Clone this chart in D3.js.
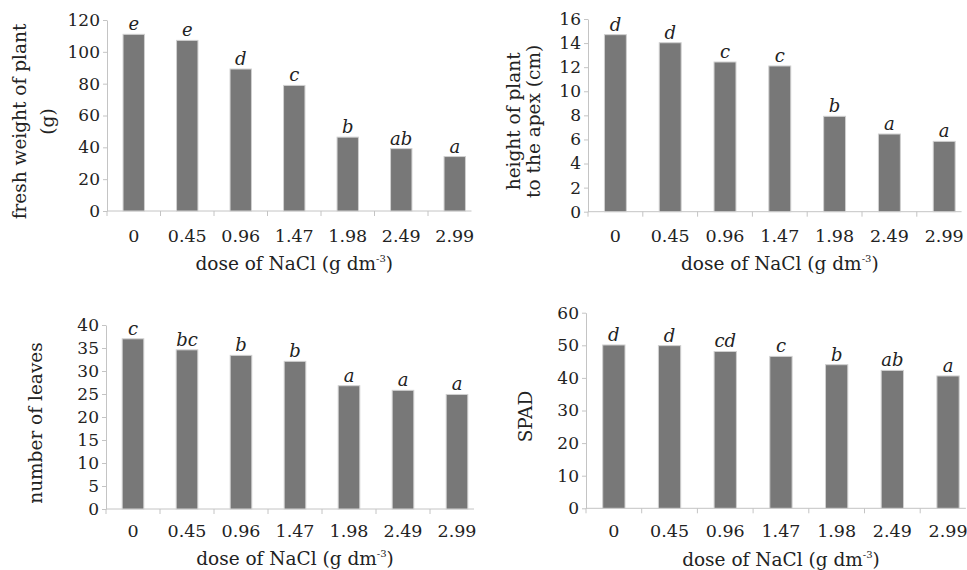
<!DOCTYPE html>
<html>
<head>
<meta charset="utf-8">
<script src="https://d3js.org/d3.v7.min.js"></script>
<style>
  body { margin: 0; background: #fff; }
  svg { display: block; }
  svg text { font-family: "DejaVu Serif", serif; fill: #222; }
</style>
</head>
<body>
<svg id="canvas" width="967" height="570"></svg>
<script>
"use strict"

const doses = ["0", "0.45", "0.96", "1.47", "1.98", "2.49", "2.99"]

const freshWeight = [111, 107.2, 89.2, 78.9, 46.4, 39.2, 34.2]
const freshWeightLetters = ["e", "e", "d", "c", "b", "ab", "a"]

const plantHeight = [14.7, 14.03, 12.43, 12.1, 7.92, 6.45, 5.84]
const plantHeightLetters = ["d", "d", "c", "c", "b", "a", "a"]

const leaves = [37.0, 34.6, 33.4, 32.1, 26.8, 25.8, 24.9]
const leavesLetters = ["c", "bc", "b", "b", "a", "a", "a"]

const spad = [50.1, 49.9, 48.1, 46.6, 44.05, 42.3, 40.6]
const spadLetters = ["d", "d", "cd", "c", "b", "ab", "a"]

const svg = d3.select("#canvas")

// one entry per panel: where its axes sit and what it shows
const panels = [
  { values: freshWeight, letters: freshWeightLetters, max: 120, step: 20,
    x0: 107, band: 53.5, top: 20, bottom: 211,
    ytitle: [["fresh weight of plant", 19], ["(g)", 47]], tickY: 242, titleY: 270 },
  { values: plantHeight, letters: plantHeightLetters, max: 16, step: 2,
    x0: 588, band: 54.8, top: 19, bottom: 211.7,
    ytitle: [["height of plant", 513], ["to the apex (cm)", 533]], tickY: 242, titleY: 270 },
  { values: leaves, letters: leavesLetters, max: 40, step: 5,
    x0: 106, band: 54, top: 325, bottom: 509,
    ytitle: [["number of leaves", 35]], tickY: 537, titleY: 565 },
  { values: spad, letters: spadLetters, max: 60, step: 10,
    x0: 586, band: 55.7, top: 312.7, bottom: 508.3,
    ytitle: [["SPAD", 525]], tickY: 537, titleY: 566 },
]

panels.forEach((p) => {
  const g = svg.append("g")
  const x = d3.scaleBand()
    .domain(doses)
    .range([p.x0, p.x0 + p.band * doses.length])
    .paddingInner(0.6)
    .paddingOuter(0.3)
  const y = d3.scaleLinear().domain([0, p.max]).range([p.bottom, p.top])

  // y axis
  const yAxis = d3.axisLeft(y)
    .tickValues(d3.range(0, p.max + p.step / 2, p.step))
    .tickSize(4)
    .tickPadding(3)
    .tickSizeOuter(0)
  const ya = g.append("g").attr("transform", `translate(${p.x0},0)`).call(yAxis)
  ya.attr("font-family", null).attr("font-size", null)
  ya.select(".domain").attr("stroke", "#c4c4c4")
  ya.selectAll(".tick line").attr("stroke", "#c4c4c4")
  ya.selectAll(".tick text").style("font-size", "17px")

  // x axis line + boundary ticks
  const xEnd = p.x0 + p.band * doses.length - 10
  g.append("line")
    .attr("x1", p.x0).attr("x2", xEnd)
    .attr("y1", p.bottom).attr("y2", p.bottom)
    .attr("stroke", "#c4c4c4")
  g.selectAll(".bt")
    .data(doses)
    .enter().append("line")
      .attr("x1", (d) => x(d) - x.step() * 0.3)
      .attr("x2", (d) => x(d) - x.step() * 0.3)
      .attr("y1", p.bottom).attr("y2", p.bottom + 5)
      .attr("stroke", "#c4c4c4")

  g.selectAll(".xl")
    .data(doses)
    .enter().append("text")
      .attr("x", (d) => x(d) + x.bandwidth() / 2)
      .attr("y", p.tickY)
      .attr("text-anchor", "middle")
      .style("font-size", "17.5px")
      .text((d) => d)

  // bars
  g.selectAll(".bar")
    .data(p.values)
    .enter().append("rect")
      .attr("x", (d, i) => x(doses[i]))
      .attr("width", x.bandwidth())
      .attr("y", (d) => y(d))
      .attr("height", (d) => y(0) - y(d))
      .attr("fill", "#787878")
      .attr("stroke", "#d0d0d0")
      .attr("stroke-width", 1)

  // significance letters
  g.selectAll(".let")
    .data(p.values)
    .enter().append("text")
      .attr("x", (d, i) => x(doses[i]) + x.bandwidth() / 2)
      .attr("y", (d) => y(d) - 4)
      .attr("text-anchor", "middle")
      .style("font-size", "18px")
      .style("font-style", "italic")
      .text((d, i) => p.letters[i])

  // x title
  const xt = g.append("text")
    .attr("x", (p.x0 + xEnd) / 2 + 5)
    .attr("y", p.titleY)
    .attr("text-anchor", "middle")
    .style("font-size", "18.5px")
  xt.append("tspan").text("dose of NaCl (g dm")
  xt.append("tspan").text("-3").style("font-size", "10px").attr("dy", -8)
  xt.append("tspan").text(")").attr("dy", 8)

  // y title
  const yc = (p.top + p.bottom) / 2 + 6
  p.ytitle.forEach(([t, cx]) => {
    g.append("text")
      .attr("transform", `translate(${cx},${yc}) rotate(-90)`)
      .attr("text-anchor", "middle")
      .attr("dominant-baseline", "central")
      .style("font-size", "18.5px")
      .text(t)
  })
})
</script>
</body>
</html>
